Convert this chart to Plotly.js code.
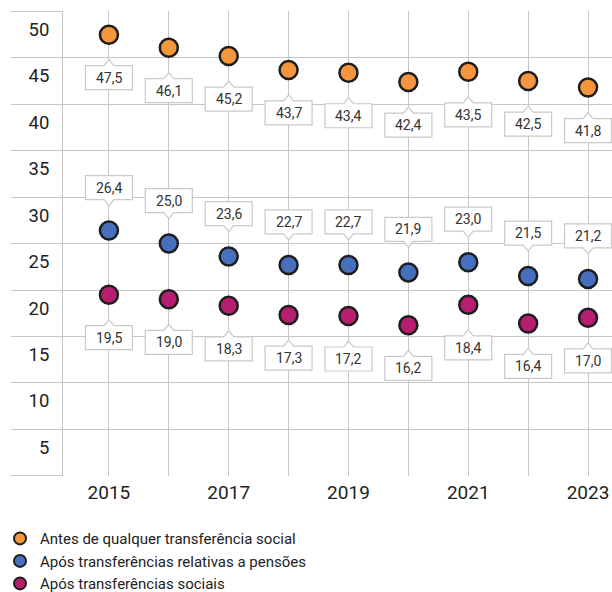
<!DOCTYPE html>
<html><head><meta charset="utf-8">
<script src="https://cdn.plot.ly/plotly-3.0.1.min.js"></script>
<style>html,body{margin:0;padding:0;background:#fff}#chart{width:612px;height:592px}</style>
</head><body><div id="chart"></div>
<script>
// ---- data ----
const years = [2015, 2016, 2017, 2018, 2019, 2020, 2021, 2022, 2023];
const xTickText = ['2015', '', '2017', '', '2019', '', '2021', '', '2023'];
const yTickVals = [0, 5, 10, 15, 20, 25, 30, 35, 40, 45, 50];
const yTickText = ['', '5', '10', '15', '20', '25', '30', '35', '40', '45', '50'];
const seriesNames = [
  'Antes de qualquer transferência social',
  'Após transferências relativas a pensões',
  'Após transferências sociais'
];
const beforeAny = [47.5, 46.1, 45.2, 43.7, 43.4, 42.4, 43.5, 42.5, 41.8];
const afterPensions = [26.4, 25.0, 23.6, 22.7, 22.7, 21.9, 23.0, 21.5, 21.2];
const afterSocial = [19.5, 19.0, 18.3, 17.3, 17.2, 16.2, 18.4, 16.4, 17.0];

// ---- styles ----
const colors = ['#F5963F', '#4670BE', '#B71E6F'];
const labelSide = [-1, 1, -1]; // -1 below, +1 above
const series = [beforeAny, afterPensions, afterSocial];
const gridColor = '#c6c6c6';
const fontFamily = 'Roboto, "Noto Sans", sans-serif';

const traces = series.map((vals, i) => ({
  type: 'scatter', mode: 'markers', x: years, y: vals, name: seriesNames[i],
  marker: {size: 18, color: colors[i], line: {color: '#1d1d1d', width: 2.5}},
  hoverinfo: 'x+y'
}));

const D = 43, BW = 47, BH = 24, NH = 6, NW = 5;
function boxPath(side) {
  const s = side;
  const near = (D - BH / 2) * s, far = (D + BH / 2) * s, tip = (D - BH / 2 - NH) * s;
  const h = BW / 2;
  return `M ${-h},${near} L ${-NW},${near} L 0,${tip} L ${NW},${near} L ${h},${near} L ${h},${far} L ${-h},${far} Z`;
}

const shapes = [];
const annotations = [];
series.forEach((vals, i) => {
  vals.forEach((v, j) => {
    shapes.push({
      type: 'path', xref: 'x', yref: 'y', xsizemode: 'pixel', ysizemode: 'pixel',
      xanchor: years[j], yanchor: v, path: boxPath(labelSide[i]),
      fillcolor: '#ffffff', line: {color: '#c9c9c9', width: 1.2}, layer: 'above'
    });
    annotations.push({
      x: years[j], y: v, xref: 'x', yref: 'y', showarrow: false,
      text: v.toFixed(1).replace('.', ','), yshift: labelSide[i] * D,
      font: {family: fontFamily, size: 14, color: '#333333'}
    });
  });
});

const layout = {
  width: 612, height: 592,
  margin: {l: 63, r: 0, t: 11, b: 116},
  paper_bgcolor: '#ffffff', plot_bgcolor: '#ffffff',
  font: {family: fontFamily, color: '#222222'},
  showlegend: true,
  legend: {
    orientation: 'v', xref: 'paper', x: -0.12, xanchor: 'left',
    yref: 'container', y: 0.118, yanchor: 'top',
    font: {family: fontFamily, size: 15, color: '#222222'},
    itemsizing: 'constant'
  },
  xaxis: {
    range: [2015 - 46 / 60, 2023.4], tickvals: years, ticktext: xTickText,
    showgrid: true, gridcolor: gridColor, gridwidth: 1, zeroline: false,
    showline: false, ticks: '', tickfont: {family: fontFamily, size: 19, color: '#222222'},
    ticklabelstandoff: 3, fixedrange: true
  },
  yaxis: {
    range: [-0.03, 50.05], tickvals: yTickVals, ticktext: yTickText,
    showgrid: true, gridcolor: gridColor, gridwidth: 1, zeroline: false,
    showline: true, linecolor: gridColor, linewidth: 1,
    ticks: 'outside', ticklen: 51, tickcolor: gridColor, tickwidth: 1,
    ticklabelstandoff: -42, ticklabelshift: 18,
    tickfont: {family: fontFamily, size: 18.5, color: '#222222'}, fixedrange: true
  },
  shapes: shapes,
  annotations: annotations
};

Plotly.newPlot('chart', traces, layout, {displayModeBar: false, staticPlot: true});
</script>
</body></html>
